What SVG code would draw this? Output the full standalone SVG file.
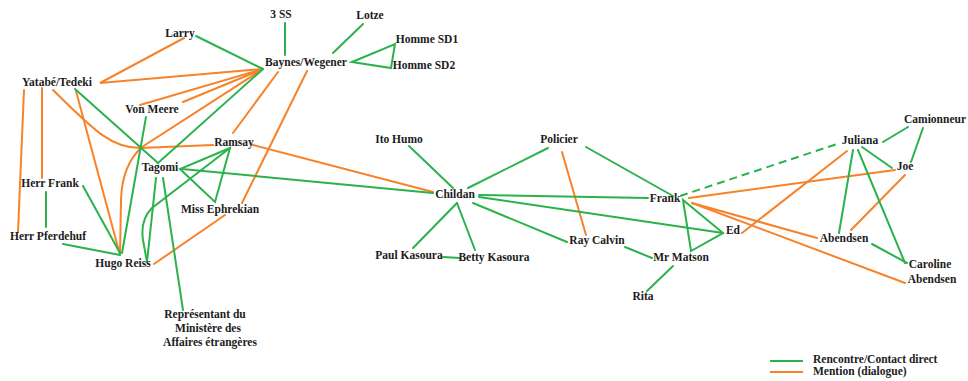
<svg xmlns="http://www.w3.org/2000/svg" width="968" height="381" viewBox="0 0 968 381">
<style>
text{font-family:"Liberation Serif","Times New Roman",serif;font-weight:bold;font-size:11.5px;fill:#1c1c1c;text-anchor:middle}
.g{stroke:#2bb24c;stroke-width:2;fill:none;stroke-linecap:round}
.o{stroke:#f7822a;stroke-width:2;fill:none;stroke-linecap:round}
.d{stroke-dasharray:8 5;stroke-linecap:butt}
text.l{text-anchor:start}
text.r{text-anchor:end}
</style>
<rect width="968" height="381" fill="#ffffff"/>
<g id="connectors">
<!-- orange mentions -->
<path class="o" d="M184,38 L100,83 L263,69"/>
<path class="o" d="M263,69 L140,105"/>
<path class="o" d="M263,69 L183,102"/>
<path class="o" d="M263,69 L142,147 Q122,165 121,200 L120,255"/>
<path class="o" d="M278,72 L233,133"/>
<path class="o" d="M307,71 L242,203"/>
<path class="o" d="M225,215 L154,264"/>
<path class="o" d="M42,88 L42,178"/>
<path class="o" d="M24,90 L18,232"/>
<path class="o" d="M53,90 C92,128 110,148 140,148 L213,145"/>
<path class="o" d="M76,91 L120,255"/>
<path class="o" d="M253,145 L433,192"/>
<path class="o" d="M562,152 L586,235"/>
<path class="o" d="M689,198 L895,170"/>
<path class="o" d="M692,203 L817,238"/>
<path class="o" d="M692,203 L905,283"/>
<path class="o" d="M742,233 L847,151"/>
<path class="o" d="M905,175 L851,230"/>
<!-- green contacts -->
<path class="g" d="M285,23 L285,55"/>
<path class="g" d="M196,36 L263,69"/>
<path class="g" d="M363,24 L333,53"/>
<path class="g" d="M352,62 L395,44 L391,68 Z"/>
<path class="g" d="M263,69 L158,163"/>
<path class="g" d="M75,89 L158,163"/>
<path class="g" d="M83,186 L120,253"/>
<path class="g" d="M46,192 L46,227"/>
<path class="g" d="M63,244 L120,255"/>
<path class="g" d="M146,117 L122,253"/>
<path class="g" d="M156,178 L147,262"/>
<path class="g" d="M230,148 L152,208 Q140,220 143,240 L147,262"/>
<path class="g" d="M163,178 L183,310"/>
<path class="g" d="M230,148 L180,169 L215,202 Z"/>
<path class="g" d="M182,169 L433,193"/>
<path class="g" d="M409,146 L453,188"/>
<path class="g" d="M548,148 L468,188"/>
<path class="g" d="M586,147 L673,196"/>
<path class="g" d="M479,195 L648,198"/>
<path class="g" d="M479,197 L723,233"/>
<path class="g" d="M473,203 L567,242"/>
<path class="g" d="M457,203 L413,248"/>
<path class="g" d="M457,203 L475,250"/>
<path class="g" d="M443,257 L460,258"/>
<path class="g" d="M625,247 L652,258"/>
<path class="g" d="M647,291 L673,266"/>
<path class="g d" d="M680,196 L840,143"/>
<path class="g" d="M683,200 L691,251 L723,233 Z"/>
<path class="g" d="M883,142 L908,127"/>
<path class="g" d="M923,128 L911,162"/>
<path class="g" d="M862,147 L892,168"/>
<path class="g" d="M853,150 L839,233"/>
<path class="g" d="M858,150 L905,263"/>
<path class="g" d="M872,244 L907,263"/>
</g>
<g id="n-3ss"><text x="281" y="18">3 SS</text></g>
<g id="n-larry"><text x="180" y="37">Larry</text></g>
<g id="n-lotze"><text x="370" y="19">Lotze</text></g>
<g id="n-baynes"><text x="306" y="66">Baynes/Wegener</text></g>
<g id="n-sd1"><text x="427" y="43">Homme SD1</text></g>
<g id="n-sd2"><text x="424" y="69">Homme SD2</text></g>
<g id="n-yatabe"><text x="57" y="86">Yatabé/Tedeki</text></g>
<g id="n-vonmeere"><text x="152" y="113">Von Meere</text></g>
<g id="n-ramsay"><text x="234" y="146">Ramsay</text></g>
<g id="n-tagomi"><text x="160" y="171">Tagomi</text></g>
<g id="n-herrfrank"><text x="50" y="187">Herr Frank</text></g>
<g id="n-pferdehuf"><text x="48" y="240">Herr Pferdehuf</text></g>
<g id="n-hugo"><text x="123" y="267">Hugo Reiss</text></g>
<g id="n-ephrekian"><text x="220" y="213">Miss Ephrekian</text></g>
<g id="n-representant"><text x="205" y="318">Représentant du</text><text x="208" y="332">Ministère des</text><text x="210" y="346">Affaires étrangères</text></g>
<g id="n-itohumo"><text x="399" y="143">Ito Humo</text></g>
<g id="n-policier"><text x="559" y="143">Policier</text></g>
<g id="n-childan"><text x="455" y="198">Childan</text></g>
<g id="n-paul"><text x="409" y="259">Paul Kasoura</text></g>
<g id="n-betty"><text x="494" y="261">Betty Kasoura</text></g>
<g id="n-ray"><text x="597" y="244">Ray Calvin</text></g>
<g id="n-matson"><text x="681" y="261">Mr Matson</text></g>
<g id="n-rita"><text x="643" y="300">Rita</text></g>
<g id="n-frank"><text x="665" y="202">Frank</text></g>
<g id="n-ed"><text x="733" y="234">Ed</text></g>
<g id="n-juliana"><text x="860" y="144">Juliana</text></g>
<g id="n-camionneur"><text class="r" x="966" y="123">Camionneur</text></g>
<g id="n-joe"><text x="905" y="170">Joe</text></g>
<g id="n-abendsen"><text x="844" y="242">Abendsen</text></g>
<g id="n-caroline"><text x="930" y="268">Caroline</text><text x="932" y="283">Abendsen</text></g>
<g id="legend">
<line class="g" x1="770" y1="361" x2="803" y2="361" style="stroke-linecap:butt"/>
<text class="l" x="813" y="363">Rencontre/Contact direct</text>
<line class="o" x1="770" y1="372" x2="803" y2="372" style="stroke-linecap:butt"/>
<text class="l" x="813" y="375">Mention (dialogue)</text>
</g>
</svg>
